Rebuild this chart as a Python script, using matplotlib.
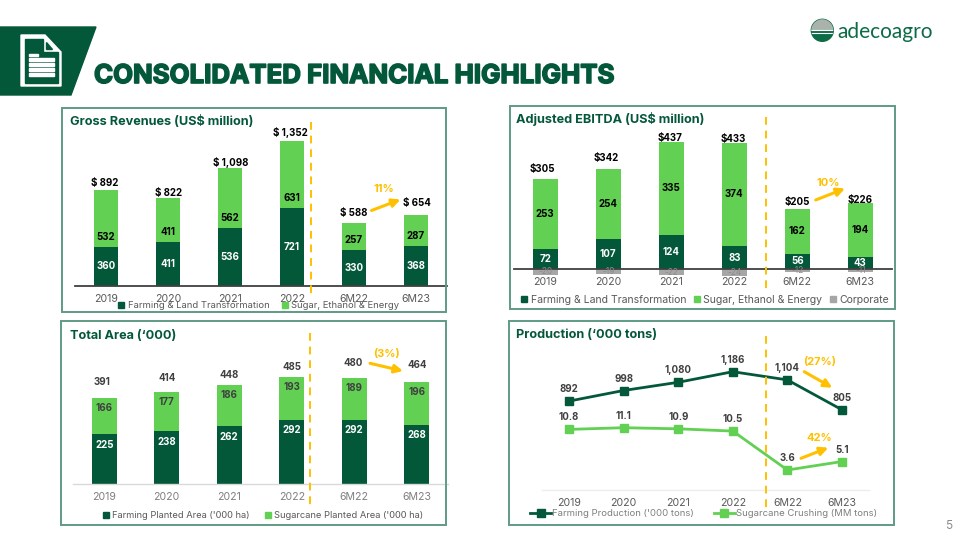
import matplotlib
matplotlib.use("Agg")
import matplotlib.pyplot as plt
import matplotlib.patheffects as pe
from matplotlib.lines import Line2D
from matplotlib.patches import Polygon, Rectangle, Circle

plt.rcParams['font.family'] = ['Inter', 'DejaVu Sans']

DARK = "#04583A"
LIGHT = "#62D053"
GREY = "#A6A6A6"
ORANGE = "#FFC000"
BORDER = "#5F9A84"

periods = ["2019", "2020", "2021", "2022", "6M22", "6M23"]

# gross revenues
rev_farming = [360, 411, 536, 721, 330, 368]
rev_sugar = [532, 411, 562, 631, 257, 287]
rev_totals = ["$ 892", "$ 822", "$ 1,098", "$ 1,352", "$ 588", "$ 654"]

# adjusted ebitda
ebitda_farming = [72, 107, 124, 83, 56, 43]
ebitda_sugar = [253, 254, 335, 374, 162, 194]
ebitda_corp = [-20, -19, -22, -24, -12, -11]
ebitda_totals = ["$305", "$342", "$437", "$433", "$205", "$226"]

# total area
area_farming = [225, 238, 262, 292, 292, 268]
area_sugar = [166, 177, 186, 193, 189, 196]
area_totals = ["391", "414", "448", "485", "480", "464"]

# production
prod_farming = [892, 998, 1080, 1186, 1104, 805]
prod_farming_labels = ["892", "998", "1,080", "1,186", "1,104", "805"]
prod_sugar = [10.8, 11.1, 10.9, 10.5, 3.6, 5.1]

fig = plt.figure(figsize=(9.6, 5.4), dpi=100)


def chart_axes(x0, x1, ybase, ppu, ytop, ybot):
    # axes placed in pixels, ppu = pixels per data unit
    ax = fig.add_axes([x0 / 960, 1 - ybot / 540, (x1 - x0) / 960, (ybot - ytop) / 540], zorder=2)
    ax.patch.set_alpha(0)
    ax.set_xlim(-0.5, 5.5)
    ax.set_ylim(-(ybot - ybase) / ppu, (ybase - ytop) / ppu)
    for s in ['top', 'left', 'right']:
        ax.spines[s].set_visible(False)
    ax.spines['bottom'].set_position(('data', 0))
    ax.set_yticks([])
    ax.set_xticks(range(6), periods)
    return ax


def label(ax, x, y, txt, dx=0, dy=0, color="black", size=7, weight='bold'):
    ax.annotate(txt, (x, y), xytext=(dx, dy), textcoords='offset pixels', ha='center', va='center',
                color=color, fontsize=size, fontweight=weight, zorder=5)


def square_legend(ax, cx, cy, names, colors, size, spacing):
    handles = [Line2D([], [], ls='none', marker='s', ms=4.5, color=c) for c in colors]
    ax.legend(handles, names, loc='center', ncol=len(names), bbox_to_anchor=(cx / 960, 1 - cy / 540),
              bbox_transform=fig.transFigure, frameon=False, fontsize=size, labelcolor="#595959",
              handlelength=0.6, handletextpad=0.35, columnspacing=spacing, borderpad=0, borderaxespad=0)


# Gross revenues
ax1 = chart_axes(75, 447, 285.5, 0.1069, 115, 300)
ax1.bar(range(6), rev_farming, width=0.4, color=DARK)
ax1.bar(range(6), rev_sugar, width=0.4, bottom=rev_farming, color=LIGHT)
ax1.spines['bottom'].set_color("#404040")
ax1.spines['bottom'].set_linewidth(1.3)
ax1.tick_params(axis='x', length=0, pad=6, labelsize=7.6, labelcolor="#595959")
rev_sugar_dy = [-18.5, -12, -19.5, -23.7, -4, -5]
rev_total_dy = [7.5, 5, 6, 8, 10, 12]
rev_total_dx = [-1, 1, 1, -2, 0, 1]
for i in range(6):
    label(ax1, i, rev_farming[i] / 2, str(rev_farming[i]), color="white")
    label(ax1, i, rev_farming[i] + rev_sugar[i] / 2, str(rev_sugar[i]), dy=rev_sugar_dy[i])
    label(ax1, i, rev_farming[i] + rev_sugar[i], rev_totals[i], dx=rev_total_dx[i], dy=rev_total_dy[i])
square_legend(ax1, 259, 306, ["Farming & Land Transformation", "Sugar, Ethanol & Energy"], [DARK, LIGHT], 6.8, 1.4)

# Adjusted EBITDA
ax2 = chart_axes(513.8, 891.8, 269, 0.2767, 115, 290)
ax2.bar(range(6), ebitda_farming, width=0.4, color=DARK)
ax2.bar(range(6), ebitda_sugar, width=0.4, bottom=ebitda_farming, color=LIGHT)
ax2.bar(range(6), ebitda_corp, width=0.4, color=GREY)
ax2.spines['bottom'].set_color("#404040")
ax2.spines['bottom'].set_linewidth(1.3)
ax2.tick_params(axis='x', length=0, pad=5.5, labelsize=7.6, labelcolor="#595959")
ebitda_total_dy = [10, 11.5, 3.5, 3.5, 6.7, 3.9]
ebitda_total_dx = [-3, -2, -1, -1, 0, 0]
for i in range(6):
    top = ebitda_farming[i] + ebitda_sugar[i]
    label(ax2, i, ebitda_farming[i] / 2, str(ebitda_farming[i]), color="white")
    label(ax2, i, ebitda_farming[i] + ebitda_sugar[i] / 2, str(ebitda_sugar[i]))
    label(ax2, i, ebitda_corp[i] / 2, str(ebitda_corp[i]), color="#8C8C8C", size=6, weight='normal')
    label(ax2, i, top, ebitda_totals[i], dx=ebitda_total_dx[i], dy=ebitda_total_dy[i])
square_legend(ax2, 705, 300, ["Farming & Land Transformation", "Sugar, Ethanol & Energy", "Corporate"],
              [DARK, LIGHT, GREY], 7.55, 0.7)

# Total area
ax3 = chart_axes(73, 448, 484, 0.2207, 345, 500)
ax3.bar(range(6), area_farming, width=0.405, color=DARK)
ax3.bar(range(6), area_sugar, width=0.405, bottom=area_farming, color=LIGHT)
ax3.spines['bottom'].set_color("#D9D9D9")
ax3.spines['bottom'].set_linewidth(1)
ax3.tick_params(axis='x', length=0, pad=5.5, labelsize=7.6, labelcolor="#7F7F7F")
area_total_dy = [15.7, 14.3, 10, 10, 14.7, 17]
area_total_dx = [-2, 0, 0, 0, -1, 0]
for i in range(6):
    top = area_farming[i] + area_sugar[i]
    label(ax3, i, area_farming[i], str(area_farming[i]), dy=-10.5, color="white")
    label(ax3, i, top, str(area_sugar[i]), dy=-10, color="#404040")
    label(ax3, i, top, area_totals[i], dx=area_total_dx[i], dy=area_total_dy[i], color="#404040")
square_legend(ax3, 263, 515.7, ["Farming Planted Area ('000 ha)", "Sugarcane Planted Area ('000 ha)"],
              [DARK, LIGHT], 6.7, 1.7)

# Production, two series on their own scales
ax4 = chart_axes(541.7, 869.3, 490.3, 0.1, 345, 500)
ax4b = ax4.twinx()
ax4b.set_ylim(-(500 - 490.3) / 5.64, (490.3 - 345) / 5.64)
ax4b.axis('off')
ax4b.patch.set_alpha(0)
l1, = ax4.plot(range(6), prod_farming, color=DARK, lw=2, marker='s', ms=5.5)
l2, = ax4b.plot(range(6), prod_sugar, color=LIGHT, lw=2, marker='s', ms=5.5)
ax4.spines['bottom'].set_color("#EDEDED")
ax4.spines['bottom'].set_linewidth(1)
ax4.tick_params(axis='x', length=0, pad=5.5, labelsize=7.6, labelcolor="#595959")
for i in range(6):
    label(ax4, i, prod_farming[i], prod_farming_labels[i], dy=12, color="#404040")
    label(ax4b, i, prod_sugar[i], str(prod_sugar[i]), dy=12, color="#404040")
ax4.legend([l1, l2], ["Farming Production ('000 tons)", "Sugarcane Crushing (MM tons)"], loc='center', ncol=2,
           bbox_to_anchor=(703.5 / 960, 1 - 514 / 540), bbox_transform=fig.transFigure, frameon=False,
           fontsize=6.85, labelcolor="#7F7F7F", handlelength=2.2, handletextpad=0.1, columnspacing=2.1,
           borderpad=0, borderaxespad=0)

# page furniture, coordinates in pixels
ov = fig.add_axes([0, 0, 1, 1], zorder=3)
ov.set_xlim(0, 960)
ov.set_ylim(540, 0)
ov.axis('off')
ov.patch.set_alpha(0)

ov.add_patch(Polygon([(0, 27), (96, 27), (71, 95), (0, 95)], color=DARK))
ov.add_patch(Polygon([(21, 35), (45, 35), (61, 52), (61, 86), (21, 86)], color="white"))
ov.add_patch(Polygon([(24.5, 38.5), (43, 38.5), (43, 52), (57.5, 52), (57.5, 82.5), (24.5, 82.5)], color=DARK))
ov.add_patch(Polygon([(46, 42), (46, 49), (52, 49)], color=DARK))
ov.add_patch(Rectangle((29, 53.5), 9, 2.5, color="white"))
for yy in [58, 63, 68, 73]:
    ov.add_patch(Rectangle((29, yy), 25, 2.8, color="white"))

ov.text(94, 76.5, "CONSOLIDATED FINANCIAL HIGHLIGHTS", fontsize=18.6, fontweight='bold', color=DARK, va='center',
        path_effects=[pe.withStroke(linewidth=1.2, foreground=DARK)])

# logo
logo = Circle((822.3, 30.3), 11, color="#0E6B48")
ov.add_patch(logo)
top_logo = ov.add_patch(Rectangle((811, 19), 23, 10, color="#A9B3AB"))
top_logo.set_clip_path(logo)
for yy in [29.5, 33]:
    ln = ov.plot([811, 834], [yy, yy], color="white", lw=0.8)[0]
    ln.set_clip_path(logo)
ov.text(837.5, 31.5, "adecoagro", fontsize=15, family='Lato', color="#0E6B48", va='center')
ov.text(949, 525.7, "5", fontsize=8.5, color="#8C8C8C", ha='center', va='center')

panels = [(61.5, 108, 446, 311.5), (509.5, 105.5, 894.5, 309), (61, 321.3, 445.5, 525.3), (509, 321, 894, 525)]
for x0, y0, x1, y1 in panels:
    ov.add_patch(Rectangle((x0, y0), x1 - x0, y1 - y0, fill=False, ec=BORDER, lw=1.4))

titles = [(70.5, 121.5, "Gross Revenues (US$ million)"), (516.5, 119, "Adjusted EBITDA (US$ million)"),
          (70, 336, "Total Area (‘000)"), (516.5, 335, "Production (‘000 tons)")]
for x, y, t in titles:
    ov.text(x, y, t, fontsize=9.15, fontweight='bold', color=DARK, va='center')

for x, y0, y1 in [(310.5, 122, 296), (765.7, 117, 292), (310.3, 333, 507), (765.7, 336, 510)]:
    ov.plot([x, x], [y0, y1], color=ORANGE, lw=1.4, ls=(0, (4, 3)))

arrows = [((371.5, 210.5), (400.5, 199.5)), ((815.7, 200), (845, 188.5)), ((370, 363.3), (403, 371)),
          ((804.3, 371.7), (832.3, 387.7)), ((801, 458.3), (828.3, 447.7))]
for a, b in arrows:
    ov.annotate('', xy=b, xytext=a, arrowprops=dict(arrowstyle='-|>', color=ORANGE, lw=2.2, mutation_scale=12,
                                                    shrinkA=0, shrinkB=0))
for x, y, t in [(383.5, 189.5, "11%"), (828, 182.5, "10%"), (386, 354.3, "(3%)"), (820, 362, "(27%)"),
                (819, 438.3, "42%")]:
    ov.text(x, y, t, fontsize=8, fontweight='bold', color=ORANGE, ha='center', va='center')

fig.savefig("out.png", dpi=100)
